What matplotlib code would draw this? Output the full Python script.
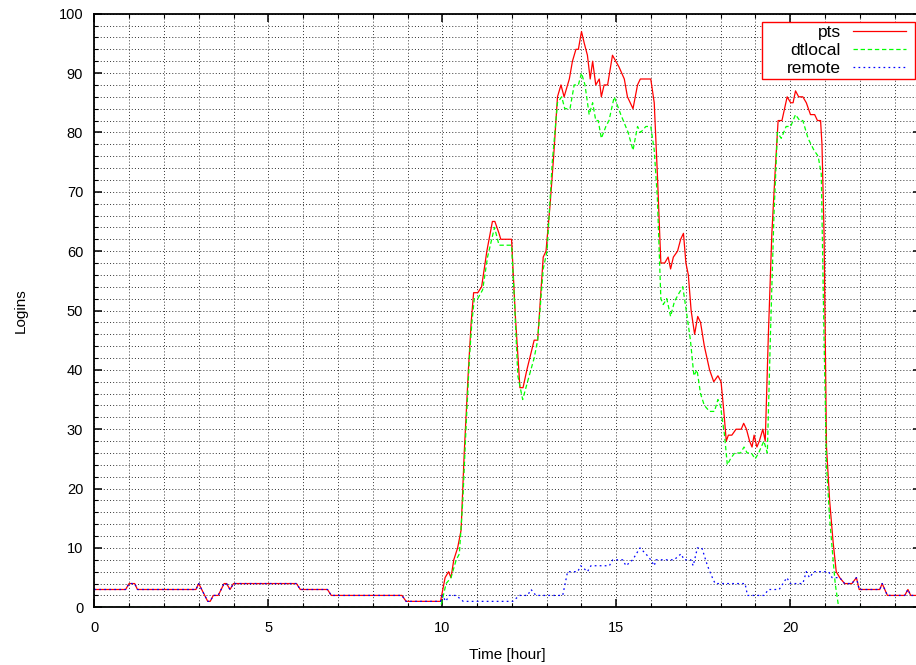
import matplotlib
matplotlib.use("Agg")
import matplotlib.pyplot as plt
from matplotlib.patches import Rectangle

plt.rcParams['font.family'] = ['Liberation Sans', 'DejaVu Sans']

# --------------------------------------------------------------------------------------------------
# data (hour of day, number of logins)

pts_hours = [0.0, 0.9, 1.0, 1.16, 1.24, 2.92, 3.0, 3.26, 3.33, 3.42, 3.56, 3.73, 3.8, 3.9, 4.0,
             5.81, 5.92, 6.7, 6.81, 8.84, 8.96, 9.95, 10.08, 10.18, 10.25, 10.33, 10.44, 10.54,
             10.63, 10.75, 10.83, 10.9, 11.02, 11.13, 11.28, 11.44, 11.51, 11.63, 11.68, 11.99,
             12.1, 12.23, 12.32, 12.43, 12.64, 12.74, 12.9, 12.98, 13.1, 13.2, 13.31, 13.41, 13.5,
             13.65, 13.74, 13.84, 13.91, 14.0, 14.08, 14.17, 14.25, 14.32, 14.41, 14.51, 14.57,
             14.65, 14.75, 14.89, 15.08, 15.23, 15.32, 15.48, 15.61, 15.69, 15.99, 16.09, 16.18,
             16.28, 16.39, 16.49, 16.56, 16.64, 16.76, 16.85, 16.93, 17.0, 17.07, 17.15, 17.25,
             17.34, 17.42, 17.53, 17.68, 17.8, 17.92, 18.01, 18.09, 18.16, 18.22, 18.32, 18.44,
             18.59, 18.66, 18.74, 18.83, 18.9, 18.96, 19.04, 19.11, 19.21, 19.28, 19.37, 19.47,
             19.57, 19.65, 19.76, 19.91, 20.01, 20.08, 20.15, 20.24, 20.36, 20.46, 20.58, 20.7,
             20.78, 20.87, 20.91, 20.97, 21.04, 21.13, 21.23, 21.32, 21.42, 21.56, 21.77, 21.9,
             21.98, 22.57, 22.64, 22.79, 23.29, 23.38, 23.46, 23.7]
pts_values = [3, 3, 4, 4, 3, 3, 4, 1, 1, 2, 2, 4, 4, 3, 4,
              4, 3, 3, 2, 2, 1, 1, 5, 6, 5, 8, 10, 13,
              26, 40, 48, 53, 53, 54, 60, 65, 65, 63, 62, 62,
              49, 37, 37, 40, 45, 45, 59, 60, 68, 76, 86, 88, 86,
              89, 92, 94, 94, 97, 95, 93, 89, 92, 88, 89, 86,
              88, 88, 93, 91, 89, 86, 84, 88, 89, 89, 85, 73,
              58, 58, 59, 57, 59, 60, 62, 63, 58, 56, 50, 46,
              49, 48, 44, 40, 38, 39, 38, 33, 28, 29, 29, 30,
              30, 31, 30, 28, 27, 29, 27, 28, 30, 28, 46, 63,
              74, 82, 82, 86, 85, 85, 87, 86, 86, 85, 83, 83,
              82, 82, 78, 63, 27, 18, 11, 6, 5, 4, 4, 5,
              3, 3, 4, 2, 2, 3, 2, 2]

dtlocal_hours = [0.0, 9.95, 10.11, 10.25, 10.4, 10.49, 10.59, 10.68, 10.78, 10.85, 10.92, 11.02,
                 11.16, 11.3, 11.5, 11.63, 11.99, 12.07, 12.17, 12.31, 12.45, 12.64, 12.74, 12.9,
                 13.01, 13.16, 13.31, 13.43, 13.52, 13.67, 13.79, 13.91, 14.0, 14.1, 14.22, 14.32,
                 14.41, 14.48, 14.57, 14.7, 14.79, 14.94, 15.13, 15.34, 15.48, 15.61, 15.7, 15.85,
                 15.99, 16.09, 16.18, 16.28, 16.35, 16.45, 16.56, 16.67, 16.81, 16.91, 17.01,
                 17.13, 17.23, 17.32, 17.42, 17.53, 17.68, 17.82, 17.92, 17.99, 18.11, 18.19,
                 18.28, 18.4, 18.57, 18.67, 18.76, 18.88, 18.99, 19.09, 19.24, 19.34, 19.43,
                 19.53, 19.63, 19.74, 19.88, 20.01, 20.15, 20.27, 20.36, 20.51, 20.68, 20.8,
                 20.89, 20.97, 21.04, 21.13, 21.23, 21.29, 21.39, 23.7]
dtlocal_values = [0, 0, 4, 5, 8, 9, 18, 30, 42, 48, 52, 52,
                  53.5, 59, 64, 61, 61, 52, 39, 35, 38, 42, 45, 57,
                  60, 75, 85, 86, 84, 84, 88, 88, 90, 88, 83, 85,
                  82, 82, 79, 81, 82, 86, 83, 80, 77, 81, 80, 81,
                  81, 77, 69, 52, 51, 52, 49, 51.5, 53, 54, 50,
                  45, 39, 40, 36, 34, 33, 33, 35, 34, 29, 24,
                  25, 26, 26, 27, 26, 26, 25, 26, 28, 26, 46,
                  66, 80, 79, 81, 81, 83, 82, 82, 79, 77, 76,
                  73, 45, 24, 15, 8, 4, 0, 0]

remote_hours = [0.0, 0.9, 1.0, 1.16, 1.24, 2.92, 3.0, 3.26, 3.33, 3.42, 3.56, 3.73, 3.8, 3.9, 4.0,
                5.81, 5.92, 6.7, 6.81, 8.84, 8.96, 9.95, 10.0, 10.1, 10.2, 10.4, 10.6, 12.02,
                12.22, 12.45, 12.55, 12.69, 13.46, 13.6, 13.89, 13.98, 14.17, 14.27, 14.8, 14.9,
                15.18, 15.28, 15.47, 15.68, 15.85, 15.99, 16.09, 16.14, 16.66, 16.86, 16.95,
                17.14, 17.21, 17.33, 17.46, 17.62, 17.76, 17.84, 18.7, 18.77, 19.25, 19.37,
                19.68, 19.9, 20.0, 20.36, 20.46, 20.55, 20.68, 21.1, 21.2, 21.42, 21.56, 21.77,
                21.9, 21.98, 22.57, 22.64, 22.79, 23.29, 23.38, 23.46, 23.7]
remote_values = [3, 3, 4, 4, 3, 3, 4, 1, 1, 2, 2, 4, 4, 3, 4,
                 4, 3, 3, 2, 2, 1, 1, 2, 1, 2, 2, 1, 1,
                 2, 2, 3, 2, 2, 6, 6, 7, 6, 7, 7, 8,
                 8, 7, 8, 10, 9, 8, 7, 8, 8, 9, 8,
                 8, 7, 10, 10, 7, 5, 4, 4, 2, 2, 3,
                 3, 5, 4, 4, 6, 5, 6, 6, 5, 5, 4, 4,
                 5, 3, 3, 4, 2, 2, 3, 2, 2]

x_ticks = [0, 5, 10, 15, 20]
y_ticks = [0, 10, 20, 30, 40, 50, 60, 70, 80, 90, 100]

# --------------------------------------------------------------------------------------------------

fig = plt.figure(figsize=(9.16, 6.65), dpi=100)
# right border of the original plot lies just outside the picture
ax = fig.add_axes([94.3 / 916, 57.7 / 665, 826.5 / 916, 593.6 / 665])

ax.plot(pts_hours, pts_values, color='#ff0000', lw=0.9, label='pts')
ax.plot(dtlocal_hours, dtlocal_values, color='#00ff00', lw=0.9, dashes=(3.5, 2.2), label='dtlocal')
ax.plot(remote_hours, remote_values, color='#0000ff', lw=0.9, dashes=(1.4, 2.6), label='remote')

ax.set_xlim(0, 23.75)
ax.set_ylim(0, 100)
ax.set_xticks(x_ticks)
ax.set_xticks(range(0, 24), minor=True)
ax.set_yticks(y_ticks)
ax.set_yticks(range(0, 101, 2), minor=True)

# gnuplot style grid and inward ticks
ax.set_axisbelow(True)
ax.grid(which='both', color='#333333', linestyle=(0, (1, 2.2)), lw=0.7)
ax.tick_params(which='both', direction='in', top=True, right=True, labelsize=10.5)
ax.tick_params(axis='x', pad=10)
ax.tick_params(axis='y', pad=8)
ax.tick_params(which='major', length=6, width=1.1)
ax.tick_params(which='minor', length=3, width=0.8)
for s in ax.spines.values():
    s.set_linewidth(1.3)

ax.set_xlabel('Time [hour]', fontsize=11, labelpad=9)
ax.set_ylabel('Logins', fontsize=11, labelpad=22)

# key box drawn separately (gnuplot key box is wider on the left), entries on top of it
key_box = Rectangle((762 / 916, 1 - 79 / 665), 153 / 916, 57 / 665,
                    transform=fig.transFigure, facecolor='white',
                    edgecolor='#ff0000', lw=1.0, zorder=4, clip_on=False)
ax.add_patch(key_box)
leg = ax.legend(loc='upper right', bbox_to_anchor=(906 / 916, 1 - 25 / 665),
                bbox_transform=fig.transFigure, borderaxespad=0, borderpad=0,
                markerfirst=False, frameon=False, fontsize=12.5,
                handlelength=3.05, handletextpad=0.7, labelspacing=0.16)
leg.set_zorder(5)

fig.savefig('out.png', dpi=100)
